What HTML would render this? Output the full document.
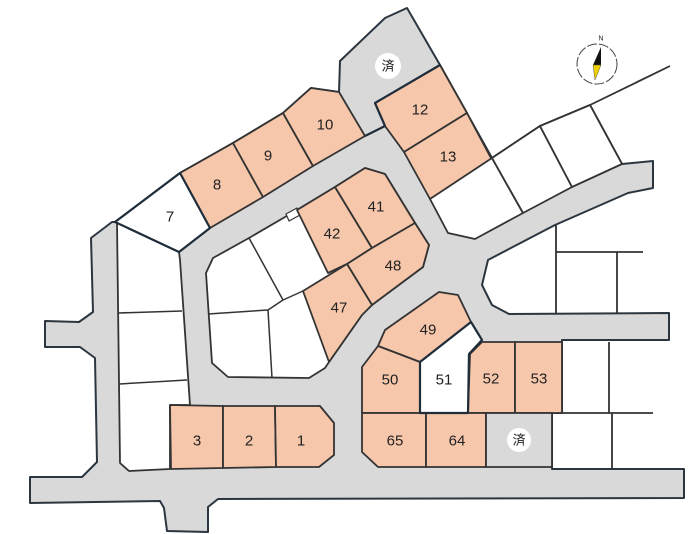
<!DOCTYPE html>
<html><head><meta charset="utf-8"><style>
html,body{margin:0;padding:0;background:#fff;}
svg{display:block;}
text{font-family:"Liberation Sans","Noto Sans CJK JP",sans-serif;font-size:15px;fill:#222;text-anchor:middle;dominant-baseline:central;}
</style></head><body>
<svg width="694" height="534" viewBox="0 0 694 534" xmlns="http://www.w3.org/2000/svg">
<g stroke-linejoin="round">
<!-- site / roads -->
<polygon fill="#d9d9d9" stroke="#2b3640" stroke-width="2" points="30,503 30,477 82,477 97,462 95,358 80,347 45,347 45,321 79,322 93,312 91,238 112,222 115,222 180,173 233,143 283,113 311,88 339,92 340,61 385,18 407,8 440,65 492,158 540,126 590,105 622,164 653,161 653,188 628,193 555,225 488,260 482,285 492,305 509,314 669,313 669,340 562,340 562,413 552,413 552,469 684,469 684,498 218,499 208,507 208,532 167,531 164,508 160,501 30,503"/>
<!-- left column white lots -->
<polygon fill="#fff" stroke="#333" stroke-width="1.8" points="117,222 179,252 180,260 190,405 170,405 170,469 129,471 120,463"/>
<line x1="118" y1="313" x2="182" y2="311" stroke="#333" stroke-width="1.5"/>
<line x1="119" y1="384" x2="187" y2="380" stroke="#333" stroke-width="1.5"/>
<!-- island -->
<polygon fill="#fff" stroke="#333" stroke-width="1.8" points="206,273 213,258 249,238 297,210 335,187 365,168 385,174 415,223 429,245 423,267 372,305 362,315 329,362 325,368 309,378 228,377 212,363"/>
<line x1="249" y1="238" x2="283" y2="300" stroke="#333" stroke-width="1.5"/>
<polyline fill="none" points="208,314 268,310 283,300 303,291" stroke="#333" stroke-width="1.5"/>
<line x1="268" y1="310" x2="272" y2="378" stroke="#333" stroke-width="1.5"/>
<polygon fill="#fff" stroke="#333" stroke-width="1.2" points="286,214 297,208 300,215 289,221"/>
<g fill="#f6c7ab" stroke="#333" stroke-width="1.8">
<polygon points="297,210 335,187 372,248 347,264 328,273"/>
<polygon points="335,187 365,168 385,174 415,223 372,248"/>
<polygon points="372,248 415,223 429,245 423,267 372,305 347,264"/>
<polygon points="303,291 347,264 372,305 362,315 329,362"/>
<!-- top row -->
<polygon points="180,173 233,143 263,197 210,228"/>
<polygon points="233,143 283,113 313,166 263,197"/>
<polygon points="283,113 311,88 339,92 365,136 313,166"/>
<polygon points="375,103 440,65 467,113 404,152 385,126"/>
<polygon points="404,152 467,113 492,160 430,199"/>
<!-- bottom left -->
<polygon points="170,405 223,406 223,468 171,469"/>
<polygon points="223,406 275,406 276,467 223,468"/>
<polygon points="275,406 320,406 334,423 334,455 319,467 276,467"/>
<!-- lower middle -->
<polygon points="378,346 385,330 439,292 458,295 471,322 420,362"/>
<polygon points="378,346 420,362 420,413 362,413 362,367"/>
<polygon points="470,354 482,342 515,342 515,413 468,413"/>
<polygon points="515,342 562,342 562,413 515,413"/>
<polygon points="362,413 426,413 426,467 378,467 362,452"/>
<polygon points="426,413 486,413 486,467 426,467"/>
</g>
<polygon fill="#d9d9d9" stroke="#333" stroke-width="1.8" points="486,413 552,413 552,467 486,467"/>
<!-- white lots with dark outline -->
<polygon fill="#fff" stroke="#1f2d3a" stroke-width="2.2" points="115,222 180,173 210,228 179,252"/>
<polygon fill="#fff" stroke="#1f2d3a" stroke-width="2.2" points="420,362 471,322 482,340 469,354 468,413 420,413"/>
<line x1="365" y1="136" x2="385" y2="126" stroke="#1f2d3a" stroke-width="2.2"/>
<polyline fill="none" stroke="#1f2d3a" stroke-width="2.2" points="385,126 375,103 440,65"/>
<!-- NE white lots -->
<polygon fill="#fff" stroke="#333" stroke-width="1.8" points="430,199 492,158 523,213 475,239 448,233"/>
<polygon fill="#fff" stroke="#333" stroke-width="1.8" points="492,158 540,126 572,187 523,213"/>
<polygon fill="#fff" stroke="#333" stroke-width="1.8" points="540,126 590,105 622,164 572,187"/>
<g stroke="#333" stroke-width="1.8">
<line x1="590" y1="105" x2="670" y2="66"/>
<line x1="556" y1="225" x2="556" y2="314"/>
<line x1="556" y1="252" x2="643" y2="252"/>
<line x1="617" y1="252" x2="617" y2="314"/>
<line x1="562" y1="413" x2="653" y2="413"/>
<line x1="609" y1="342" x2="609" y2="413"/>
<line x1="612" y1="413" x2="612" y2="469"/>
</g>
</g>
<!-- 済 circles -->
<circle cx="388" cy="66" r="13" fill="#fff"/>
<text x="388" y="66" style="font-size:13px">済</text>
<circle cx="519" cy="440" r="12" fill="#fff"/>
<text x="519" y="440" style="font-size:13px">済</text>
<!-- compass -->
<circle cx="597" cy="64" r="20" fill="none" stroke="#444" stroke-width="1" stroke-dasharray="10,2"/>
<polygon points="601,47 593,65 601,65" fill="#111"/>
<polygon points="593,65 601,65 595,80" fill="#f0d000" stroke="#555" stroke-width="0.5"/>
<text x="601" y="39" style="font-size:7px">N</text>
<!-- labels -->
<text x="170" y="217">7</text>
<text x="217" y="185">8</text>
<text x="268" y="156">9</text>
<text x="325" y="125">10</text>
<text x="420" y="110">12</text>
<text x="448" y="157">13</text>
<text x="376" y="207">41</text>
<text x="332" y="234">42</text>
<text x="393" y="266">48</text>
<text x="339" y="308">47</text>
<text x="428" y="330">49</text>
<text x="390" y="380">50</text>
<text x="444" y="380">51</text>
<text x="491" y="379">52</text>
<text x="539" y="379">53</text>
<text x="197" y="441">3</text>
<text x="249" y="441">2</text>
<text x="301" y="441">1</text>
<text x="395" y="441">65</text>
<text x="457" y="441">64</text>
</svg>
</body></html>
